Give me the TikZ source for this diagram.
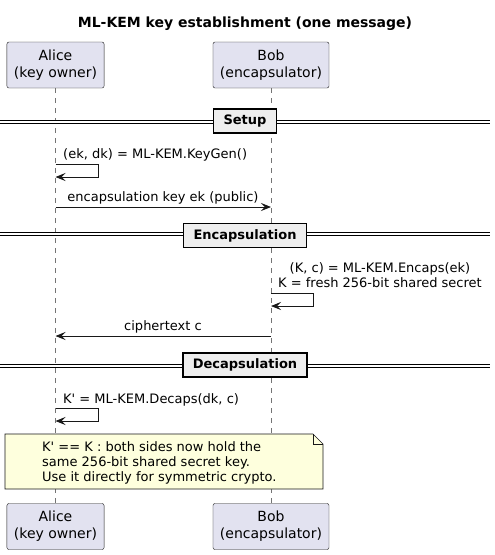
\documentclass[tikz,border=0pt]{standalone}
\usepackage{fontspec}
\setmainfont{DejaVu Sans}
\usepackage{tikz}
\usetikzlibrary{arrows.meta, calc}
\definecolor{actorbg}{HTML}{E2E2F0}
\definecolor{linecol}{HTML}{181818}
\definecolor{notebg}{HTML}{FEFFDD}
\definecolor{groupbg}{HTML}{EEEEEE}
\tikzset{
  actor/.style={
    draw=linecol,
    fill=actorbg,
    rounded corners=2pt,
    align=center,
    font=\fontsize{14}{17}\selectfont,
    minimum height=46pt,
    inner xsep=7pt
  },
  lifeline/.style={
    draw=linecol!60,
    line width=0.5pt,
    dash pattern=on 5pt off 5pt
  },
  msg arrow/.style={
    -{Stealth[length=10pt, width=8pt, inset=4pt]},
    draw=linecol,
    line width=0.9pt
  },
  msg label/.style={font=\fontsize{13}{15}\selectfont, inner sep=0pt},
  divider/.style={draw=black, double, double distance=2pt, line width=1pt},
  section/.style={
    draw=black, line width=1.5pt, fill=groupbg,
    font=\fontsize{13}{15}\selectfont\bfseries,
    minimum height=24pt, inner xsep=10pt
  },
  note/.style={draw=linecol, fill=notebg, line width=0.6pt}
}

\begin{document}
\begin{tikzpicture}[x=1pt, y=-1pt]
  \useasboundingbox (0,0) rectangle (495,555);

  % title
  \node[anchor=base, font=\fontsize{14}{16}\selectfont\bfseries] (title) at (245,27.5) {ML-KEM key establishment (one message)};

  % participants
  \node[actor] (alicetop) at (55.5,65) {Alice\\(key owner)};
  \node[actor] (bobtop) at (271,65) {Bob\\(encapsulator)};
  \node[actor] (alicebot) at (55.5,526.5) {Alice\\(key owner)};
  \node[actor] (bobbot) at (271,526.5) {Bob\\(encapsulator)};

  % lifelines
  \draw[lifeline] (alicetop.south) -- (alicebot.north);
  \draw[lifeline] (bobtop.south) -- (bobbot.north);

  % Setup
  \coordinate (setupL) at (0,122.3);
  \coordinate (setupR) at (490,122.3);
  \draw[divider] (setupL) -- (setupR);
  \node[section] (setup) at (245,121) {Setup};

  \coordinate (kgA) at (55.5,164);
  \coordinate (kgB) at (55.5,177);
  \node[msg label, anchor=base west] (kglbl) at (63,158) {(ek, dk) = ML-KEM.KeyGen()};
  \draw[msg arrow] (kgA) -- ++(43,0) -- ++(0,13) -- (kgB);

  \coordinate (ekA) at (55.5,207);
  \coordinate (ekB) at (271,207);
  \draw[msg arrow] (ekA) -- (ekB);
  \node[msg label, anchor=base] (eklbl) at (163,201) {encapsulation key ek (public)};

  % Encapsulation
  \coordinate (encL) at (0,234);
  \coordinate (encR) at (490,234);
  \draw[divider] (encL) -- (encR);
  \node[section] (encaps) at (245,235.5) {Encapsulation};

  \coordinate (ecA) at (271,293);
  \coordinate (ecB) at (271,306);
  \node[msg label, anchor=base, align=center, font=\fontsize{13}{15}\selectfont] (eclbl) at (380,287) {(K, c) = ML-KEM.Encaps(ek)\\K = fresh 256-bit shared secret};
  \draw[msg arrow] (ecA) -- ++(42,0) -- ++(0,13) -- (ecB);

  \coordinate (ctB) at (271,336);
  \coordinate (ctA) at (55.5,336);
  \draw[msg arrow] (ctB) -- (ctA);
  \node[msg label, anchor=base] (ctlbl) at (163,330.5) {ciphertext c};

  % Decapsulation
  \coordinate (decL) at (0,365.7);
  \coordinate (decR) at (490,365.7);
  \draw[divider] (decL) -- (decR);
  \node[section] (decaps) at (245,365) {Decapsulation};

  \coordinate (dcA) at (55.5,408);
  \coordinate (dcB) at (55.5,421);
  \node[msg label, anchor=base west] (dclbl) at (63,403) {K\textquotesingle{} = ML-KEM.Decaps(dk, c)};
  \draw[msg arrow] (dcA) -- ++(43,0) -- ++(0,13) -- (dcB);

  % note
  \draw[note] (5,434) -- (313,434) -- (323,444) -- (323,489) -- (5,489) -- cycle;
  \draw[note, fill=none] (313,434) -- (313,444) -- (323,444);
  \node[msg label, anchor=base west, align=left, font=\fontsize{13}{15}\selectfont] (notetext) at (42,481) {K\textquotesingle{} == K : both sides now hold the\\same 256-bit shared secret key.\\Use it directly for symmetric crypto.};
\end{tikzpicture}
\end{document}
